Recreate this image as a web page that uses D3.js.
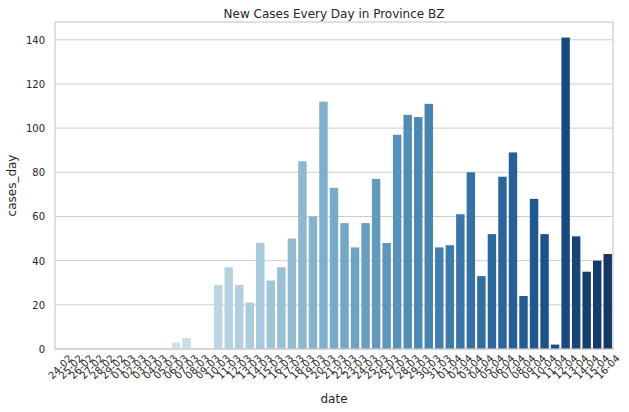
<!DOCTYPE html>
<html>
<head>
<meta charset="utf-8">
<script src="https://cdn.jsdelivr.net/npm/d3@7"></script>
<style>
  body { margin: 0; background: #fff; }
  svg { display: block; font-family: 'DejaVu Sans', sans-serif; }
</style>
</head>
<body>
<div id="chart"></div>
<script>
// data
var dates = ['24-02', '25-02', '26-02', '27-02', '28-02', '29-02',
  '01-03', '02-03', '03-03', '04-03', '05-03', '06-03', '07-03', '08-03', '09-03', '10-03',
  '11-03', '12-03', '13-03', '14-03', '15-03', '16-03', '17-03', '18-03', '19-03', '20-03',
  '21-03', '22-03', '23-03', '24-03', '25-03', '26-03', '27-03', '28-03', '29-03', '30-03', '31-03',
  '01-04', '02-04', '03-04', '04-04', '05-04', '06-04', '07-04', '08-04', '09-04', '10-04',
  '11-04', '12-04', '13-04', '14-04', '15-04', '16-04']
var casesDay = [0, 1, 0, 0, 0, 0,
  0, 0, 0, 0, 0, 3, 5, 0, 0, 29,
  37, 29, 21, 48, 31, 37, 50, 85, 60, 112,
  73, 57, 46, 57, 77, 48, 97, 106, 105, 111, 46,
  47, 61, 80, 33, 52, 78, 89, 24, 68, 52,
  2, 141, 51, 35, 40, 43]
var yTicks = [0, 20, 40, 60, 80, 100, 120, 140]

// matplotlib "Blues" colour stops
var blues9 = ['#f7fbff', '#deebf7', '#c6dbef', '#9ecae1', '#6baed6',
  '#4292c6', '#2171b5', '#08519c', '#08306b']

var W = 629, H = 412
var margin = {top: 22, right: 16, bottom: 63, left: 55},
    width = W - margin.left - margin.right,
    height = H - margin.top - margin.bottom

var textColor = '#262626', gridColor = '#cccccc'

var blues = d3.scaleLinear()
  .domain(d3.range(9).map(function(i) { return i / 8 }))
  .range(blues9)
  .interpolate(d3.interpolateRgb)

// seaborn palette sampling + barplot desaturation (0.75)
function barColor(i) {
  var c = d3.hsl(blues((i + 1) / (dates.length + 1)))
  c.s = c.s * 0.75
  return c.formatHex()
}

var x = d3.scaleBand()
  .domain(dates)
  .range([0, width])
  .paddingInner(0.2)
  .paddingOuter(0.1)

var y = d3.scaleLinear()
  .domain([0, d3.max(casesDay) * 1.05])
  .range([height, 0])

var svg = d3.select('#chart').append('svg')
  .attr('width', W)
  .attr('height', H)

var g = svg.append('g')
  .attr('transform', 'translate(' + margin.left + ',' + margin.top + ')')

// grid
g.selectAll('.grid')
  .data(yTicks)
  .enter().append('line')
    .attr('class', 'grid')
    .attr('x1', 0)
    .attr('x2', width)
    .attr('y1', function(d) { return y(d) })
    .attr('y2', function(d) { return y(d) })
    .attr('stroke', gridColor)
    .attr('stroke-width', 1)

// bars
g.selectAll('.bar')
  .data(casesDay)
  .enter().append('rect')
    .attr('class', 'bar')
    .attr('x', function(d, i) { return x(dates[i]) })
    .attr('width', x.bandwidth())
    .attr('y', function(d) { return y(d) })
    .attr('height', function(d) { return y(0) - y(d) })
    .attr('fill', function(d, i) { return barColor(i) })

// frame
g.append('rect')
  .attr('x', 0)
  .attr('y', 0)
  .attr('width', width)
  .attr('height', height)
  .attr('fill', 'none')
  .attr('stroke', gridColor)
  .attr('stroke-width', 1.25)

// y tick labels
g.selectAll('.ytick')
  .data(yTicks)
  .enter().append('text')
    .attr('class', 'ytick')
    .attr('x', -10)
    .attr('y', function(d) { return y(d) })
    .attr('dy', '0.4em')
    .attr('text-anchor', 'end')
    .attr('font-size', '10px')
    .attr('fill', textColor)
    .text(function(d) { return d })

// x tick labels, rotated 45deg and centred under the bar like matplotlib
var xLabelSize = 10
g.selectAll('.xtick')
  .data(dates)
  .enter().append('text')
    .attr('class', 'xtick')
    .attr('transform', function(d) {
      var w = d.length * 0.58 * xLabelSize
      var h = 1.17 * xLabelSize
      var half = (w + h) * Math.SQRT1_2 / 2
      var cx = x(d) + x.bandwidth() / 2
      return 'translate(' + cx + ',' + (height + 3.5 + half) + ') rotate(-45)'
    })
    .attr('text-anchor', 'middle')
    .attr('dy', '0.35em')
    .attr('font-size', xLabelSize + 'px')
    .attr('fill', textColor)
    .text(function(d) { return d })

// axis labels and title
g.append('text')
  .attr('x', width / 2)
  .attr('y', H - margin.top - 9)
  .attr('text-anchor', 'middle')
  .attr('font-size', '12px')
  .attr('fill', textColor)
  .text('date')

g.append('text')
  .attr('transform', 'translate(' + (16 - margin.left) + ',' + (height / 2) + ') rotate(-90)')
  .attr('text-anchor', 'middle')
  .attr('font-size', '12px')
  .attr('fill', textColor)
  .text('cases_day')

svg.append('text')
  .attr('x', margin.left + width / 2)
  .attr('y', 17.5)
  .attr('text-anchor', 'middle')
  .attr('font-size', '12px')
  .attr('fill', textColor)
  .text('New Cases Every Day in Province BZ')
</script>
</body>
</html>
